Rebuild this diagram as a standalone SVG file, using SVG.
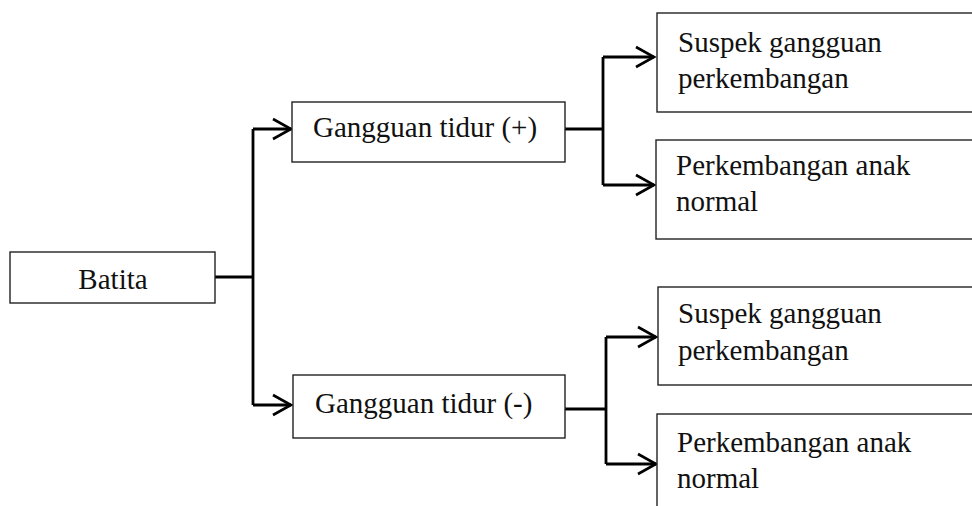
<svg xmlns="http://www.w3.org/2000/svg" width="972" height="506" viewBox="0 0 972 506">
<defs>
<style>
.box{fill:#fff;stroke:#222;stroke-width:1.4}
.t{font-family:"Liberation Serif","Times New Roman",serif;font-size:29px;fill:#111}
.c{fill:none;stroke:#000;stroke-width:2.8;stroke-linejoin:miter}
.ah{fill:none;stroke:#000;stroke-width:2.6}
</style>
</defs>
<rect width="972" height="506" fill="#fff"/>
<g id="connectors">
<path class="c" d="M215 277 H253 M253 129 V405 M253 129 H291 M253 405 H291"/>
<path class="ah" d="M273 119 L291 129 L273 139 M273 395 L291 405 L273 415"/>
<path class="c" d="M565 129 H603 M603 57 V185 M603 57 H654 M603 185 H654"/>
<path class="ah" d="M636 47 L654 57 L636 67 M636 175 L654 185 L636 195"/>
<path class="c" d="M565 409 H606 M606 337 V464 M606 337 H656 M606 464 H656"/>
<path class="ah" d="M638 327 L656 337 L638 347 M638 454 L656 464 L638 474"/>
</g>
<g id="batita">
<rect class="box" x="10" y="252" width="205" height="51"/>
<text class="t" x="113" y="289" text-anchor="middle">Batita</text>
</g>
<g id="gangguan-plus">
<rect class="box" x="292" y="102" width="273" height="60"/>
<text class="t" x="313" y="137">Gangguan tidur (+)</text>
</g>
<g id="gangguan-minus">
<rect class="box" x="293" y="375" width="272" height="63"/>
<text class="t" x="315" y="413">Gangguan tidur (-)</text>
</g>
<g id="suspek-1">
<rect class="box" x="657" y="13" width="330" height="99"/>
<text class="t" x="678" y="52">Suspek gangguan</text>
<text class="t" x="678" y="88">perkembangan</text>
</g>
<g id="normal-1">
<rect class="box" x="656" y="140" width="330" height="99"/>
<text class="t" x="676" y="175">Perkembangan anak</text>
<text class="t" x="676" y="211">normal</text>
</g>
<g id="suspek-2">
<rect class="box" x="658" y="287" width="330" height="98"/>
<text class="t" x="678" y="323">Suspek gangguan</text>
<text class="t" x="678" y="360">perkembangan</text>
</g>
<g id="normal-2">
<rect class="box" x="657" y="414" width="330" height="110"/>
<text class="t" x="677" y="452">Perkembangan anak</text>
<text class="t" x="677" y="488">normal</text>
</g>
</svg>
